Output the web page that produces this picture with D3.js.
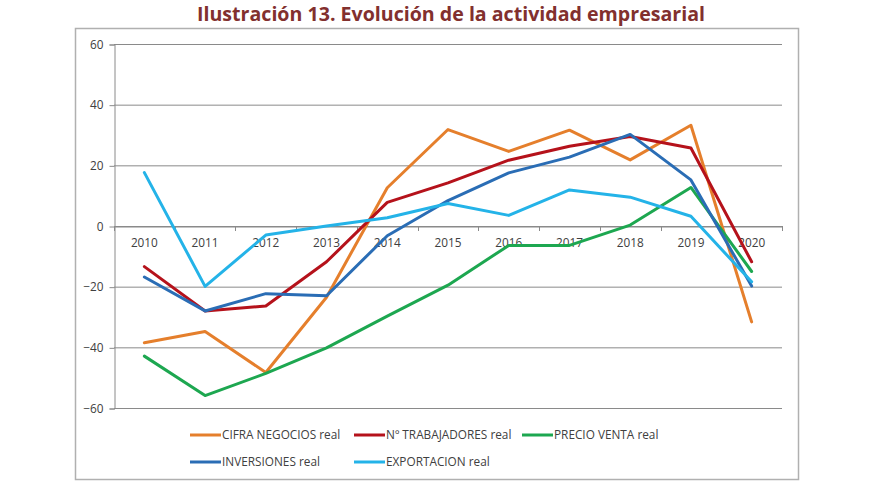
<!DOCTYPE html>
<html><head><meta charset="utf-8">
<script src="https://cdn.jsdelivr.net/npm/d3@7"></script>
<style>body{margin:0;background:#fff}svg{display:block}</style>
</head><body>
<svg id="c" width="880" height="495"></svg>
<script>
const years = ["2010","2011","2012","2013","2014","2015","2016","2017","2018","2019","2020"];
const yTicks = [-60,-40,-20,0,20,40,60];
const cifraNegocios = [-38.5,-34.8,-48.3,-23.5,12.6,31.8,24.6,31.6,21.8,33.2,-31.6];
const trabajadores = [-13.4,-28,-26.4,-11.8,7.8,14.2,21.7,26.3,29.5,25.7,-11.8];
const precioVenta = [-42.9,-55.9,-48.6,-40.2,-29.7,-19.5,-6.4,-6.4,0.3,12.7,-15];
const inversiones = [-16.8,-28,-22.3,-23,-3.2,8.4,17.5,22.7,30.2,15.2,-19.8];
const exportacion = [17.6,-19.9,-3,0,2.7,7.4,3.5,11.9,9.5,3.2,-18.4];
const seriesNames = ["CIFRA NEGOCIOS real","Nº TRABAJADORES real","PRECIO VENTA real","INVERSIONES real","EXPORTACION real"];
const seriesColors = ["#E57F2C","#B5121B","#1DA750","#2A6DB5","#24B3E8"];
const seriesData = [cifraNegocios,trabajadores,precioVenta,inversiones,exportacion];

const svg = d3.select("#c");
const font = "'Open Sans', sans-serif";

// outer border
svg.append("rect").attr("x",75.5).attr("y",28.5).attr("width",723).attr("height",451)
  .attr("fill","none").attr("stroke","#b0b0b0").attr("stroke-width",1.5);

// title
svg.append("rect").attr("x",150).attr("y",0).attr("width",600).attr("height",27).attr("fill","#fff");
svg.append("text").attr("x",451).attr("y",21).attr("text-anchor","middle")
  .attr("font-family",font).attr("font-weight","bold").attr("font-size",19.6)
  .attr("fill","#82302e").text("Ilustración 13. Evolución de la actividad empresarial");

const L=114, R=782, T=44, B=408;
const x = d3.scaleBand().domain(years).range([L,R]);
const y = d3.scaleLinear().domain([-60,60]).range([B,T]);

// gridlines
svg.append("g").selectAll("line").data(yTicks).join("line")
  .attr("x1",L).attr("x2",R).attr("y1",d=>y(d)+0.5).attr("y2",d=>y(d)+0.5)
  .attr("stroke","#8a8a8a").attr("stroke-width",1);

// y axis
const ya = svg.append("g").attr("transform",`translate(${L+0.5},0.5)`)
  .call(d3.axisLeft(y).tickValues(yTicks).tickSize(5).tickPadding(6));
ya.select(".domain").attr("stroke","#8a8a8a");
ya.selectAll(".tick line").attr("stroke","#8a8a8a");
ya.selectAll("text").attr("font-family",font).attr("font-size",11.8).attr("fill","#404040");

// x axis at zero
const xa = svg.append("g").attr("transform",`translate(0,${y(0)+0.5})`)
  .call(d3.axisBottom(x).tickSize(0).tickPadding(12));
xa.select(".domain").attr("stroke","#8a8a8a");
xa.selectAll("text").attr("font-family",font).attr("font-size",11.8).attr("fill","#404040");
// ticks at band boundaries
const bounds = years.map(d=>x(d)).concat([R]);
svg.append("g").selectAll("line").data(bounds).join("line")
  .attr("x1",d=>Math.round(d)+0.5).attr("x2",d=>Math.round(d)+0.5)
  .attr("y1",y(0)).attr("y2",y(0)+5).attr("stroke","#8a8a8a");

// lines
const line = d3.line().x((d,i)=>x(years[i])+x.bandwidth()/2).y(d=>y(d));
seriesData.forEach((s,k)=>{
  svg.append("path").datum(s).attr("d",line).attr("fill","none")
    .attr("stroke",seriesColors[k]).attr("stroke-width",3)
    .attr("stroke-linejoin","round").attr("stroke-linecap","round");
});

// legend
const legPos = [[190,435],[354,435],[522,435],[190,462],[354,462]];
seriesNames.forEach((n,k)=>{
  const [lx,ly] = legPos[k];
  svg.append("line").attr("x1",lx).attr("x2",lx+31).attr("y1",ly).attr("y2",ly)
    .attr("stroke",seriesColors[k]).attr("stroke-width",3);
  svg.append("text").attr("x",lx+32).attr("y",ly+4).attr("font-family",font)
    .attr("font-size",11.8).attr("fill","#404040").text(n);
});
</script>
</body></html>
